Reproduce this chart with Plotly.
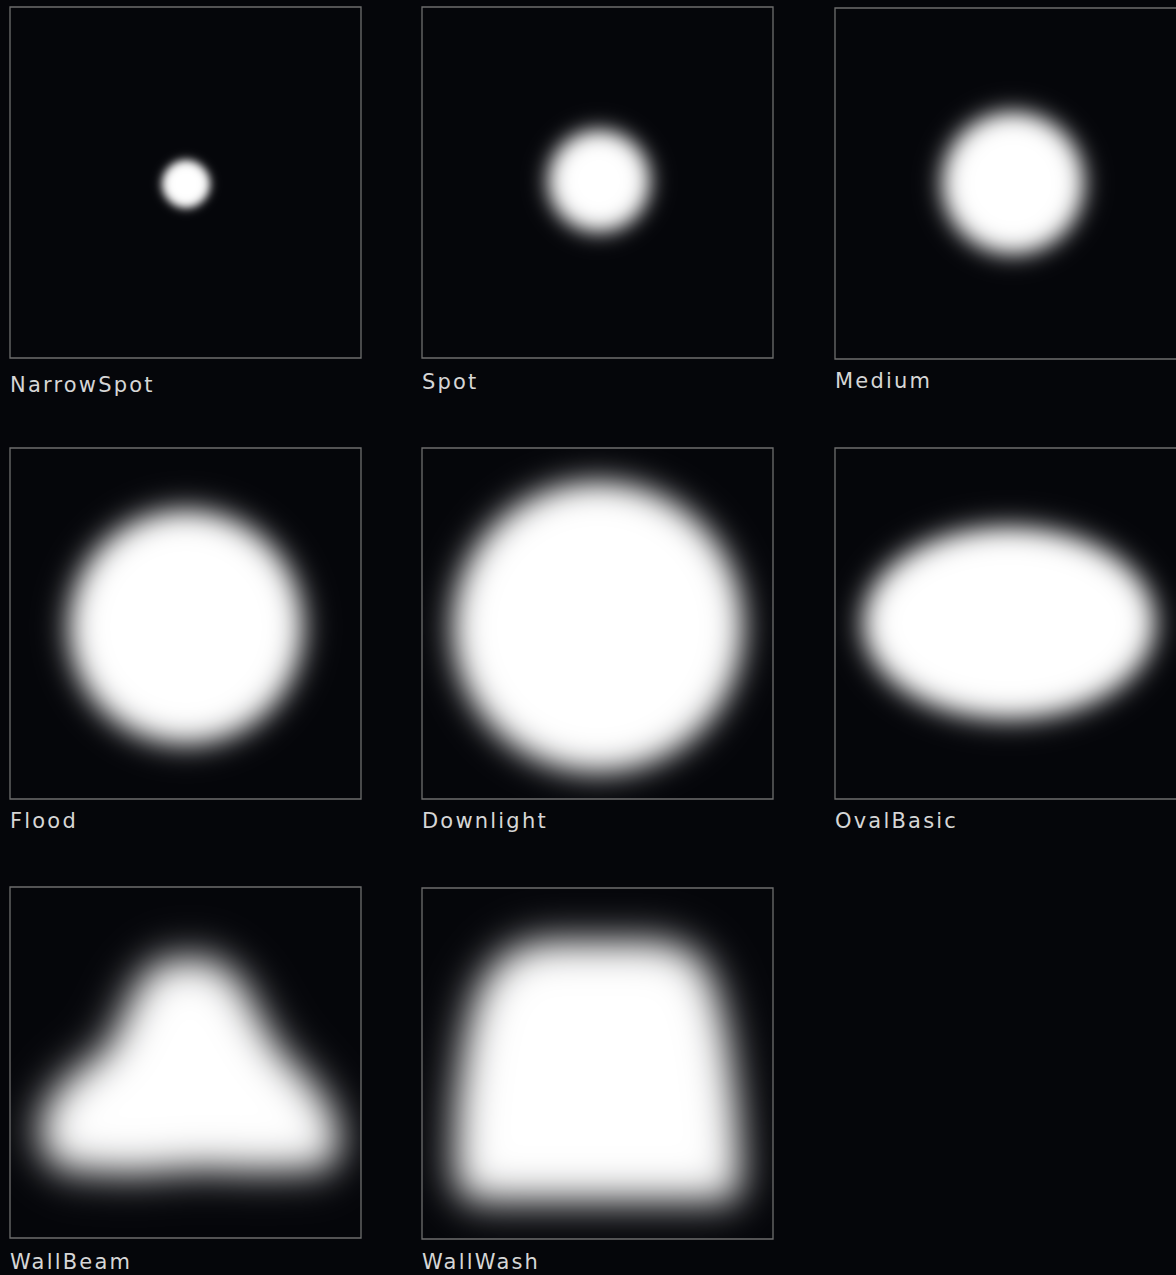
import numpy as np
import plotly.graph_objects as go

# ---------------- data ----------------
names = ["NarrowSpot", "Spot", "Medium", "Flood", "Downlight", "OvalBasic", "WallBeam", "WallWash"]

# elliptical beams: centre (panel px), semi-axes, softness (blur sigma, px)
oval_names = ["NarrowSpot", "Spot", "Medium", "Flood", "Downlight", "OvalBasic"]
oval_cx = [175, 176, 177, 175, 175, 173]
oval_cy = [176, 173, 174, 178, 178, 174]
oval_a = [24, 51, 71, 117, 145, 146]
oval_b = [24, 51, 71, 117, 145, 96]
oval_blur = [4.5, 10, 11, 14, 15, 13]

# free-form beams: outline polygons (panel px) and softness
wallbeam_x = [150, 200, 230, 247, 267, 300, 323, 330, 315, 240, 190, 120, 50, 30, 30, 53, 97, 128]
wallbeam_y = [72, 70, 93, 126, 160, 193, 226, 260, 282, 283, 281, 286, 282, 260, 226, 193, 160, 93]
wallbeam_blur = 19

wallwash_x = [115, 241, 275, 293, 305, 314, 318, 312, 45, 32, 33, 42, 55, 80]
wallwash_y = [52, 52, 66, 100, 150, 220, 290, 312, 312, 290, 220, 150, 100, 66]
wallwash_blur = 19

# ---------------- layout constants ----------------
W, H = 1176, 1275
BG = "#05060a"
PANEL = 351
panel_left = [10, 422, 835, 10, 422, 835, 10, 422]
panel_top = [7, 7, 8, 448, 448, 448, 887, 888]
label_cap_top = [376, 373, 372, 812, 812, 812, 1253, 1253]

coords = np.arange(PANEL) + 0.5
X, Y = np.meshgrid(coords, coords)


def blur(mask, sigma):
    i = np.arange(PANEL)
    G = np.exp(-((i[:, None] - i[None, :]) ** 2) / (2.0 * sigma ** 2))
    G /= np.sqrt(2 * np.pi) * sigma
    return G @ mask @ G.T


def ellipse_mask(cx, cy, a, b):
    return (((X - cx) / a) ** 2 + ((Y - cy) / b) ** 2 <= 1.0).astype(float)


def polygon_mask(px, py):
    inside = np.zeros(X.shape, dtype=bool)
    n = len(px)
    for k in range(n):
        x1, y1 = px[k], py[k]
        x2, y2 = px[(k + 1) % n], py[(k + 1) % n]
        if y1 == y2:
            continue
        cross = (y1 > Y) != (y2 > Y)
        xint = (x2 - x1) * (Y - y1) / (y2 - y1) + x1
        inside ^= cross & (X < xint)
    return inside.astype(float)


images = {}
for n, cx, cy, a, b, s in zip(oval_names, oval_cx, oval_cy, oval_a, oval_b, oval_blur):
    images[n] = blur(ellipse_mask(cx, cy, a, b), s)
images["WallBeam"] = blur(polygon_mask(wallbeam_x, wallbeam_y), wallbeam_blur)
images["WallWash"] = blur(polygon_mask(wallwash_x, wallwash_y), wallwash_blur)

fig = go.Figure()
shapes = []
annotations = []
for idx, name in enumerate(names):
    k = idx + 1
    xa = "x" if k == 1 else f"x{k}"
    ya = "y" if k == 1 else f"y{k}"
    left, top = panel_left[idx], panel_top[idx]
    right = min(left + PANEL, W)
    z = np.clip(np.round(images[name] * 255), 0, 255).astype(np.uint8)
    fig.add_trace(go.Heatmap(
        z=z, x=coords, y=coords, xaxis=xa, yaxis=ya,
        zmin=0, zmax=255, zsmooth="best", showscale=False, hoverinfo="skip",
        colorscale=[[0, BG], [1, "#ffffff"]],
    ))
    xkey = "xaxis" if k == 1 else f"xaxis{k}"
    ykey = "yaxis" if k == 1 else f"yaxis{k}"
    fig.layout[xkey] = dict(domain=[left / W, right / W], range=[0, right - left],
                            visible=False, fixedrange=True, anchor=ya)
    fig.layout[ykey] = dict(domain=[1 - (top + PANEL) / H, 1 - top / H], range=[PANEL, 0],
                            visible=False, fixedrange=True, anchor=xa)
    shapes.append(dict(type="rect", xref="paper", yref="paper",
                       x0=left / W, x1=(left + PANEL) / W,
                       y0=1 - (top + PANEL) / H, y1=1 - top / H,
                       line=dict(color="#6e6e6e", width=1.3), layer="above"))
    annotations.append(dict(
        text=f'<span style="letter-spacing:2.2px">{name}</span>',
        xref="paper", yref="paper", x=(left - 2) / W, y=1 - (label_cap_top[idx] - 5) / H,
        xanchor="left", yanchor="top", showarrow=False,
        font=dict(family="DejaVu Sans", size=21, color="#d6d6d6"),
    ))

fig.update_layout(
    width=W, height=H, margin=dict(l=0, r=0, t=0, b=0),
    paper_bgcolor=BG, plot_bgcolor=BG, showlegend=False,
    shapes=shapes, annotations=annotations,
)
fig.write_html(
    "out.html",
    config={"displayModeBar": False, "staticPlot": True},
    post_script="document.body.style.margin='0';document.body.style.background='" + BG + "';",
)
